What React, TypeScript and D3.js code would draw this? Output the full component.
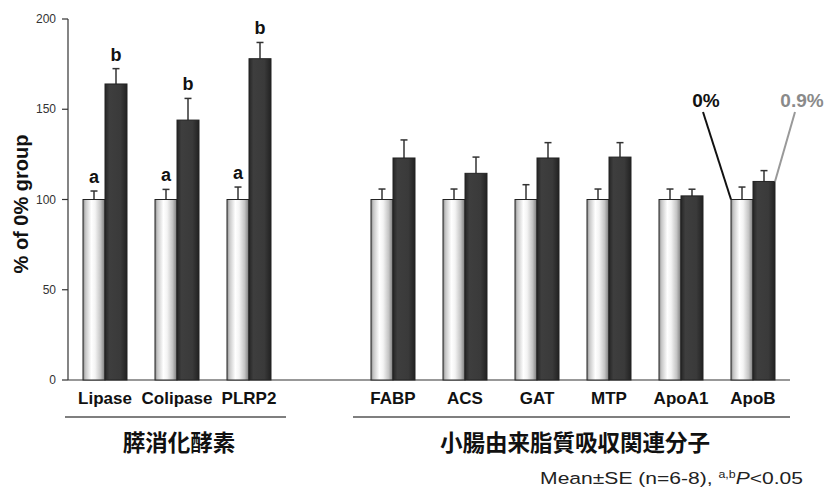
import React, { useEffect, useRef } from 'react';
import * as d3 from 'd3';

// categories (with one empty slot between the two groups)
const categories = ['Lipase', 'Colipase', 'PLRP2', 'FABP', 'ACS', 'GAT', 'MTP', 'ApoA1', 'ApoB'];
const slots = ['Lipase', 'Colipase', 'PLRP2', '_gap', 'FABP', 'ACS', 'GAT', 'MTP', 'ApoA1', 'ApoB'];
const control = [100, 100, 100, 100, 100, 100, 100, 100, 100];
const controlSE = [4.7, 5.6, 6.9, 5.8, 5.8, 8.2, 5.8, 5.8, 6.9];
const treated = [164, 144, 178, 123, 114.5, 123, 123.5, 102, 110];
const treatedSE = [8.5, 12, 9, 10, 9, 8.5, 8, 3.7, 6];
const controlLetters = ['a', 'a', 'a', '', '', '', '', '', ''];
const treatedLetters = ['b', 'b', 'b', '', '', '', '', '', ''];
const yTicks = [0, 50, 100, 150, 200];
const groups = [
  { name: '膵消化酵素', members: ['Lipase', 'Colipase', 'PLRP2'] },
  { name: '小腸由来脂質吸収関連分子', members: ['FABP', 'ACS', 'GAT', 'MTP', 'ApoA1', 'ApoB'] },
];

const W = 827;
const H = 490;

export default function App() {
  const svgRef = useRef<SVGSVGElement>(null);

  useEffect(() => {
    if (!svgRef.current) return;
    const svg = d3.select(svgRef.current);
    svg.selectAll('*').remove();

    const x = d3.scaleBand<string>().domain(slots).range([69, 789]).padding(0);
    const y = d3.scaleLinear().domain([0, 200]).range([380, 19]);
    const barW = 22;

    const defs = svg.append('defs');
    const gw = defs.append('linearGradient').attr('id', 'gWhite').attr('x1', '0%').attr('x2', '100%');
    [['0%', '#8c8c8c'], ['12%', '#c8c8c8'], ['38%', '#ffffff'], ['55%', '#f4f4f4'], ['80%', '#c4c4c4'], ['100%', '#7a7a7a']]
      .forEach(([o, c]) => gw.append('stop').attr('offset', o).attr('stop-color', c));
    const gd = defs.append('linearGradient').attr('id', 'gDark').attr('x1', '0%').attr('x2', '100%');
    [['0%', '#262626'], ['20%', '#3e3e3e'], ['70%', '#3a3a3a'], ['100%', '#222222']]
      .forEach(([o, c]) => gd.append('stop').attr('offset', o).attr('stop-color', c));

    const font = 'Arial, "Liberation Sans", sans-serif';

    // y axis
    const ax = svg.append('g');
    ax.append('line').attr('x1', 68).attr('x2', 68).attr('y1', y(200)).attr('y2', y(0))
      .attr('stroke', '#333').attr('stroke-width', 1.2);
    yTicks.forEach(t => {
      ax.append('line').attr('x1', 62).attr('x2', 68).attr('y1', y(t)).attr('y2', y(t))
        .attr('stroke', '#333').attr('stroke-width', 1.2);
      ax.append('text').attr('x', 56).attr('y', y(t)).attr('dy', '0.35em')
        .attr('text-anchor', 'end').attr('font-family', font).attr('font-size', 12)
        .attr('fill', '#333').text(t);
    });
    // baseline
    ax.append('line').attr('x1', 68).attr('x2', 790).attr('y1', y(0)).attr('y2', y(0))
      .attr('stroke', '#333').attr('stroke-width', 1.2);

    svg.append('text')
      .attr('transform', `translate(28,${204}) rotate(-90)`)
      .attr('text-anchor', 'middle').attr('font-family', font).attr('font-size', 20)
      .attr('font-weight', 'bold').attr('fill', '#111').text('% of 0% group');

    const bars = svg.append('g');
    categories.forEach((c, i) => {
      const cx = (x(c) as number) + x.bandwidth() / 2;
      const series = [
        { v: control[i], se: controlSE[i], x0: cx - barW, fill: 'url(#gWhite)', letter: controlLetters[i] },
        { v: treated[i], se: treatedSE[i], x0: cx, fill: 'url(#gDark)', letter: treatedLetters[i] },
      ];
      series.forEach(s => {
        const mid = s.x0 + barW / 2;
        const top = y(s.v + s.se);
        bars.append('line').attr('x1', mid).attr('x2', mid).attr('y1', y(s.v)).attr('y2', top)
          .attr('stroke', '#333').attr('stroke-width', 1.5);
        bars.append('line').attr('x1', mid - 3.5).attr('x2', mid + 3.5).attr('y1', top).attr('y2', top)
          .attr('stroke', '#333').attr('stroke-width', 1.5);
        bars.append('rect').attr('x', s.x0).attr('y', y(s.v)).attr('width', barW)
          .attr('height', y(0) - y(s.v)).attr('fill', s.fill)
          .attr('stroke', '#222').attr('stroke-width', 1);
        if (s.letter) {
          bars.append('text').attr('x', mid).attr('y', top - 8).attr('text-anchor', 'middle')
            .attr('font-family', font).attr('font-size', 18).attr('font-weight', 'bold')
            .attr('fill', '#111').text(s.letter);
        }
      });
      // category label
      svg.append('text').attr('x', cx).attr('y', 398).attr('dy', '0.35em').attr('text-anchor', 'middle')
        .attr('font-family', font).attr('font-size', 17).attr('font-weight', 'bold')
        .attr('fill', '#111').text(c);
    });

    // group underlines and names
    groups.forEach(g => {
      const first = (x(g.members[0]) as number) + x.bandwidth() / 2;
      const last = (x(g.members[g.members.length - 1]) as number) + x.bandwidth() / 2;
      svg.append('line').attr('x1', first - 40).attr('x2', last + 37).attr('y1', 417).attr('y2', 417)
        .attr('stroke', '#555').attr('stroke-width', 1.5);
      svg.append('text').attr('x', (first + last) / 2 + 2).attr('y', 443).attr('dy', '0.35em')
        .attr('text-anchor', 'middle').attr('font-family', '"Noto Sans CJK JP", sans-serif')
        .attr('font-size', 22.5).attr('font-weight', 'bold').attr('fill', '#111').text(g.name);
    });

    // legend annotations on ApoB
    const last = categories.length - 1;
    const cB = (x('ApoB') as number) + x.bandwidth() / 2;
    svg.append('line').attr('x1', 703).attr('y1', 112).attr('x2', cB - barW).attr('y2', y(control[last]))
      .attr('stroke', '#111').attr('stroke-width', 2);
    svg.append('text').attr('x', 706).attr('y', 107).attr('text-anchor', 'middle')
      .attr('font-family', font).attr('font-size', 19).attr('font-weight', 'bold')
      .attr('fill', '#111').text('0%');
    svg.append('line').attr('x1', 795).attr('y1', 112).attr('x2', cB + barW).attr('y2', y(treated[last]))
      .attr('stroke', '#999').attr('stroke-width', 2);
    svg.append('text').attr('x', 802).attr('y', 107).attr('text-anchor', 'middle')
      .attr('font-family', font).attr('font-size', 19).attr('font-weight', 'bold')
      .attr('fill', '#8a8a8a').text('0.9%');

    // footnote (horizontally wide in the original)
    const note = svg.append('g').attr('transform', 'translate(803,484) scale(1.24,1)')
      .append('text').attr('x', 0).attr('y', 0).attr('text-anchor', 'end')
      .attr('font-family', font).attr('font-size', 17).attr('fill', '#222');
    note.append('tspan').text('Mean±SE (n=6-8), ');
    note.append('tspan').attr('font-size', 10).attr('dy', -6).text('a,b');
    note.append('tspan').attr('font-style', 'italic').attr('dy', 6).text('P');
    note.append('tspan').text('<0.05');
  }, []);

  return (
    <div style={{ position: 'fixed', left: 0, top: 0 }}>
      <svg ref={svgRef} width={W} height={H} style={{ display: 'block', background: '#fff' }} />
    </div>
  );
}
